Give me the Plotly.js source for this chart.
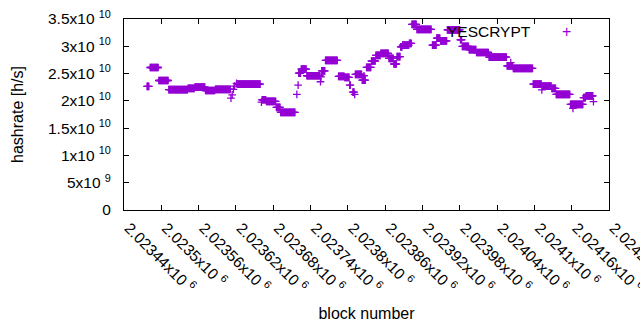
<!DOCTYPE html>
<html>
<head>
<meta charset="utf-8">
<script src="https://cdn.plot.ly/plotly-3.0.1.min.js"></script>
<style>html,body{margin:0;padding:0;background:#fff;}#chart{width:640px;height:330px;}</style>
</head>
<body>
<div id="chart"></div>
<script>
// Runs of constant hashrate: first block, last block, hashrate [h/s]
const runStart = [2023477,2023482,2023496,2023512,2023543,2023554,2023571,2023587,
  2023612,2023614,2023616,2023618,2023621,2023622,2023661,2023662,2023669,2023685,2023692,
  2023718,2023720,2023721,2023725,2023734,2023756,2023757,2023758,2023764,2023785,2023795,
  2023803,2023808,2023811,2023812,2023823,2023826,2023830,2023838,2023845,2023853,2023866,
  2023874,2023879,2023885,2023888,2023899,2023903,2023911,2023936,2023943,2023949,2023960,
  2023981,2023984,2023995,2024007,2024027,2024056,2024062,2024066,2024098,2024112,2024113,
  2024128,2024135,2024158,2024162,2024179,2024183,2024195];
const runEnd   = [2023480,2023495,2023511,2023542,2023553,2023570,2023586,2023611,
  2023612,2023614,2023616,2023618,2023621,2023659,2023661,2023668,2023684,2023691,2023715,
  2023718,2023720,2023724,2023733,2023755,2023756,2023757,2023763,2023783,2023794,2023802,
  2023804,2023810,2023811,2023822,2023828,2023826,2023837,2023844,2023852,2023865,2023873,
  2023878,2023884,2023887,2023898,2023902,2023910,2023934,2023942,2023948,2023959,2023980,
  2023983,2023994,2024006,2024026,2024055,2024065,2024062,2024097,2024111,2024112,2024127,
  2024134,2024157,2024178,2024162,2024182,2024194,2024195];
const runHashrate = [2.267e10,2.611e10,2.373e10,2.205e10,2.23e10,2.25e10,2.19e10,2.21e10,
  2.05e10,2.11e10,2.21e10,2.27e10,2.32e10,2.305e10,1.975e10,2.02e10,1.99e10,1.88e10,1.79e10,
  2.12e10,2.29e10,2.51e10,2.58e10,2.46e10,2.35e10,2.44e10,2.55e10,2.74e10,2.45e10,2.43e10,
  2.29e10,2.16e10,2.12e10,2.487e10,2.38e10,2.46e10,2.615e10,2.73e10,2.835e10,2.87e10,2.78e10,
  2.675e10,2.81e10,2.99e10,3.02e10,3.055e10,3.40e10,3.31e10,3.02e10,3.15e10,3.10e10,3.30e10,
  3.12e10,3.00e10,2.94e10,2.886e10,2.80e10,2.64e10,2.70e10,2.597e10,2.305e10,2.20e10,2.27e10,
  2.23e10,2.12e10,1.937e10,1.864e10,2.06e10,2.09e10,1.985e10];

const seriesName = 'YESCRYPT';
const xTickVals = [2023440,2023500,2023560,2023620,2023680,2023740,2023800,2023860,2023920,2023980,2024040,2024100,2024160,2024220];
const xTickText = ['2.02344x10 <sup>6</sup>','2.0235x10 <sup>6</sup>','2.02356x10 <sup>6</sup>','2.02362x10 <sup>6</sup>',
  '2.02368x10 <sup>6</sup>','2.02374x10 <sup>6</sup>','2.0238x10 <sup>6</sup>','2.02386x10 <sup>6</sup>',
  '2.02392x10 <sup>6</sup>','2.02398x10 <sup>6</sup>','2.02404x10 <sup>6</sup>','2.0241x10 <sup>6</sup>',
  '2.02416x10 <sup>6</sup>','2.02422x10 <sup>6</sup>'];
const yTickVals = [0,5e9,1e10,1.5e10,2e10,2.5e10,3e10,3.5e10];
const yTickText = ['0','5x10 <sup>9</sup>','1x10 <sup>10</sup>','1.5x10 <sup>10</sup>','2x10 <sup>10</sup>',
  '2.5x10 <sup>10</sup>','3x10 <sup>10</sup>','3.5x10 <sup>10</sup>'];

// one point per block inside every run
const blocks = [], rates = [];
for (let i = 0; i < runStart.length; i++) {
  for (let b = runStart[i]; b <= runEnd[i]; b++) { blocks.push(b); rates.push(runHashrate[i]); }
}

const color = '#9400d3';
const fam = 'Liberation Sans, Arial, sans-serif';
const tickFont = {family: fam, size: 15.5, color: '#000'};
const titleFont = {family: fam, size: 16, color: '#000'};

const trace = {
  x: blocks, y: rates, type: 'scatter', mode: 'markers', name: seriesName,
  marker: {symbol: 'cross-thin', size: 5.5, color: color, line: {color: color, width: 1.3}},
  showlegend: false, hoverinfo: 'skip'
};

const axisCommon = {
  showline: true, linecolor: '#000', linewidth: 1, mirror: 'allticks',
  ticks: 'inside', ticklen: 5, tickcolor: '#000', tickwidth: 1,
  showgrid: false, zeroline: false, tickfont: tickFont, ticklabeloverflow: 'allow'
};

const layout = {
  width: 640, height: 330,
  margin: {l: 124, r: 31, t: 19, b: 120, pad: 0},
  paper_bgcolor: '#fff', plot_bgcolor: '#fff',
  font: tickFont,
  xaxis: Object.assign({}, axisCommon, {
    range: [2023440, 2024220], tickmode: 'array', tickvals: xTickVals, ticktext: xTickText,
    tickangle: 45, ticklabelstandoff: 2, ticklabelshift: 5,
    title: {text: 'block number', font: titleFont, standoff: 12}
  }),
  yaxis: Object.assign({}, axisCommon, {
    range: [0, 3.5e10], tickmode: 'array', tickvals: yTickVals, ticktext: yTickText,
    ticklabelstandoff: 9,
    title: {text: 'hashrate [h/s]', font: titleFont, standoff: 20}
  }),
  annotations: [
    {xref: 'paper', yref: 'paper', x: 0.843, y: 0.932, xanchor: 'right', yanchor: 'middle',
     text: seriesName, showarrow: false, font: tickFont},
    {xref: 'paper', yref: 'paper', x: 0.913, y: 0.932, xanchor: 'center', yanchor: 'middle',
     text: '+', showarrow: false, font: {family: fam, size: 16, color: color}}
  ]
};

Plotly.newPlot('chart', [trace], layout, {staticPlot: true, displayModeBar: false});
</script>
</body>
</html>
